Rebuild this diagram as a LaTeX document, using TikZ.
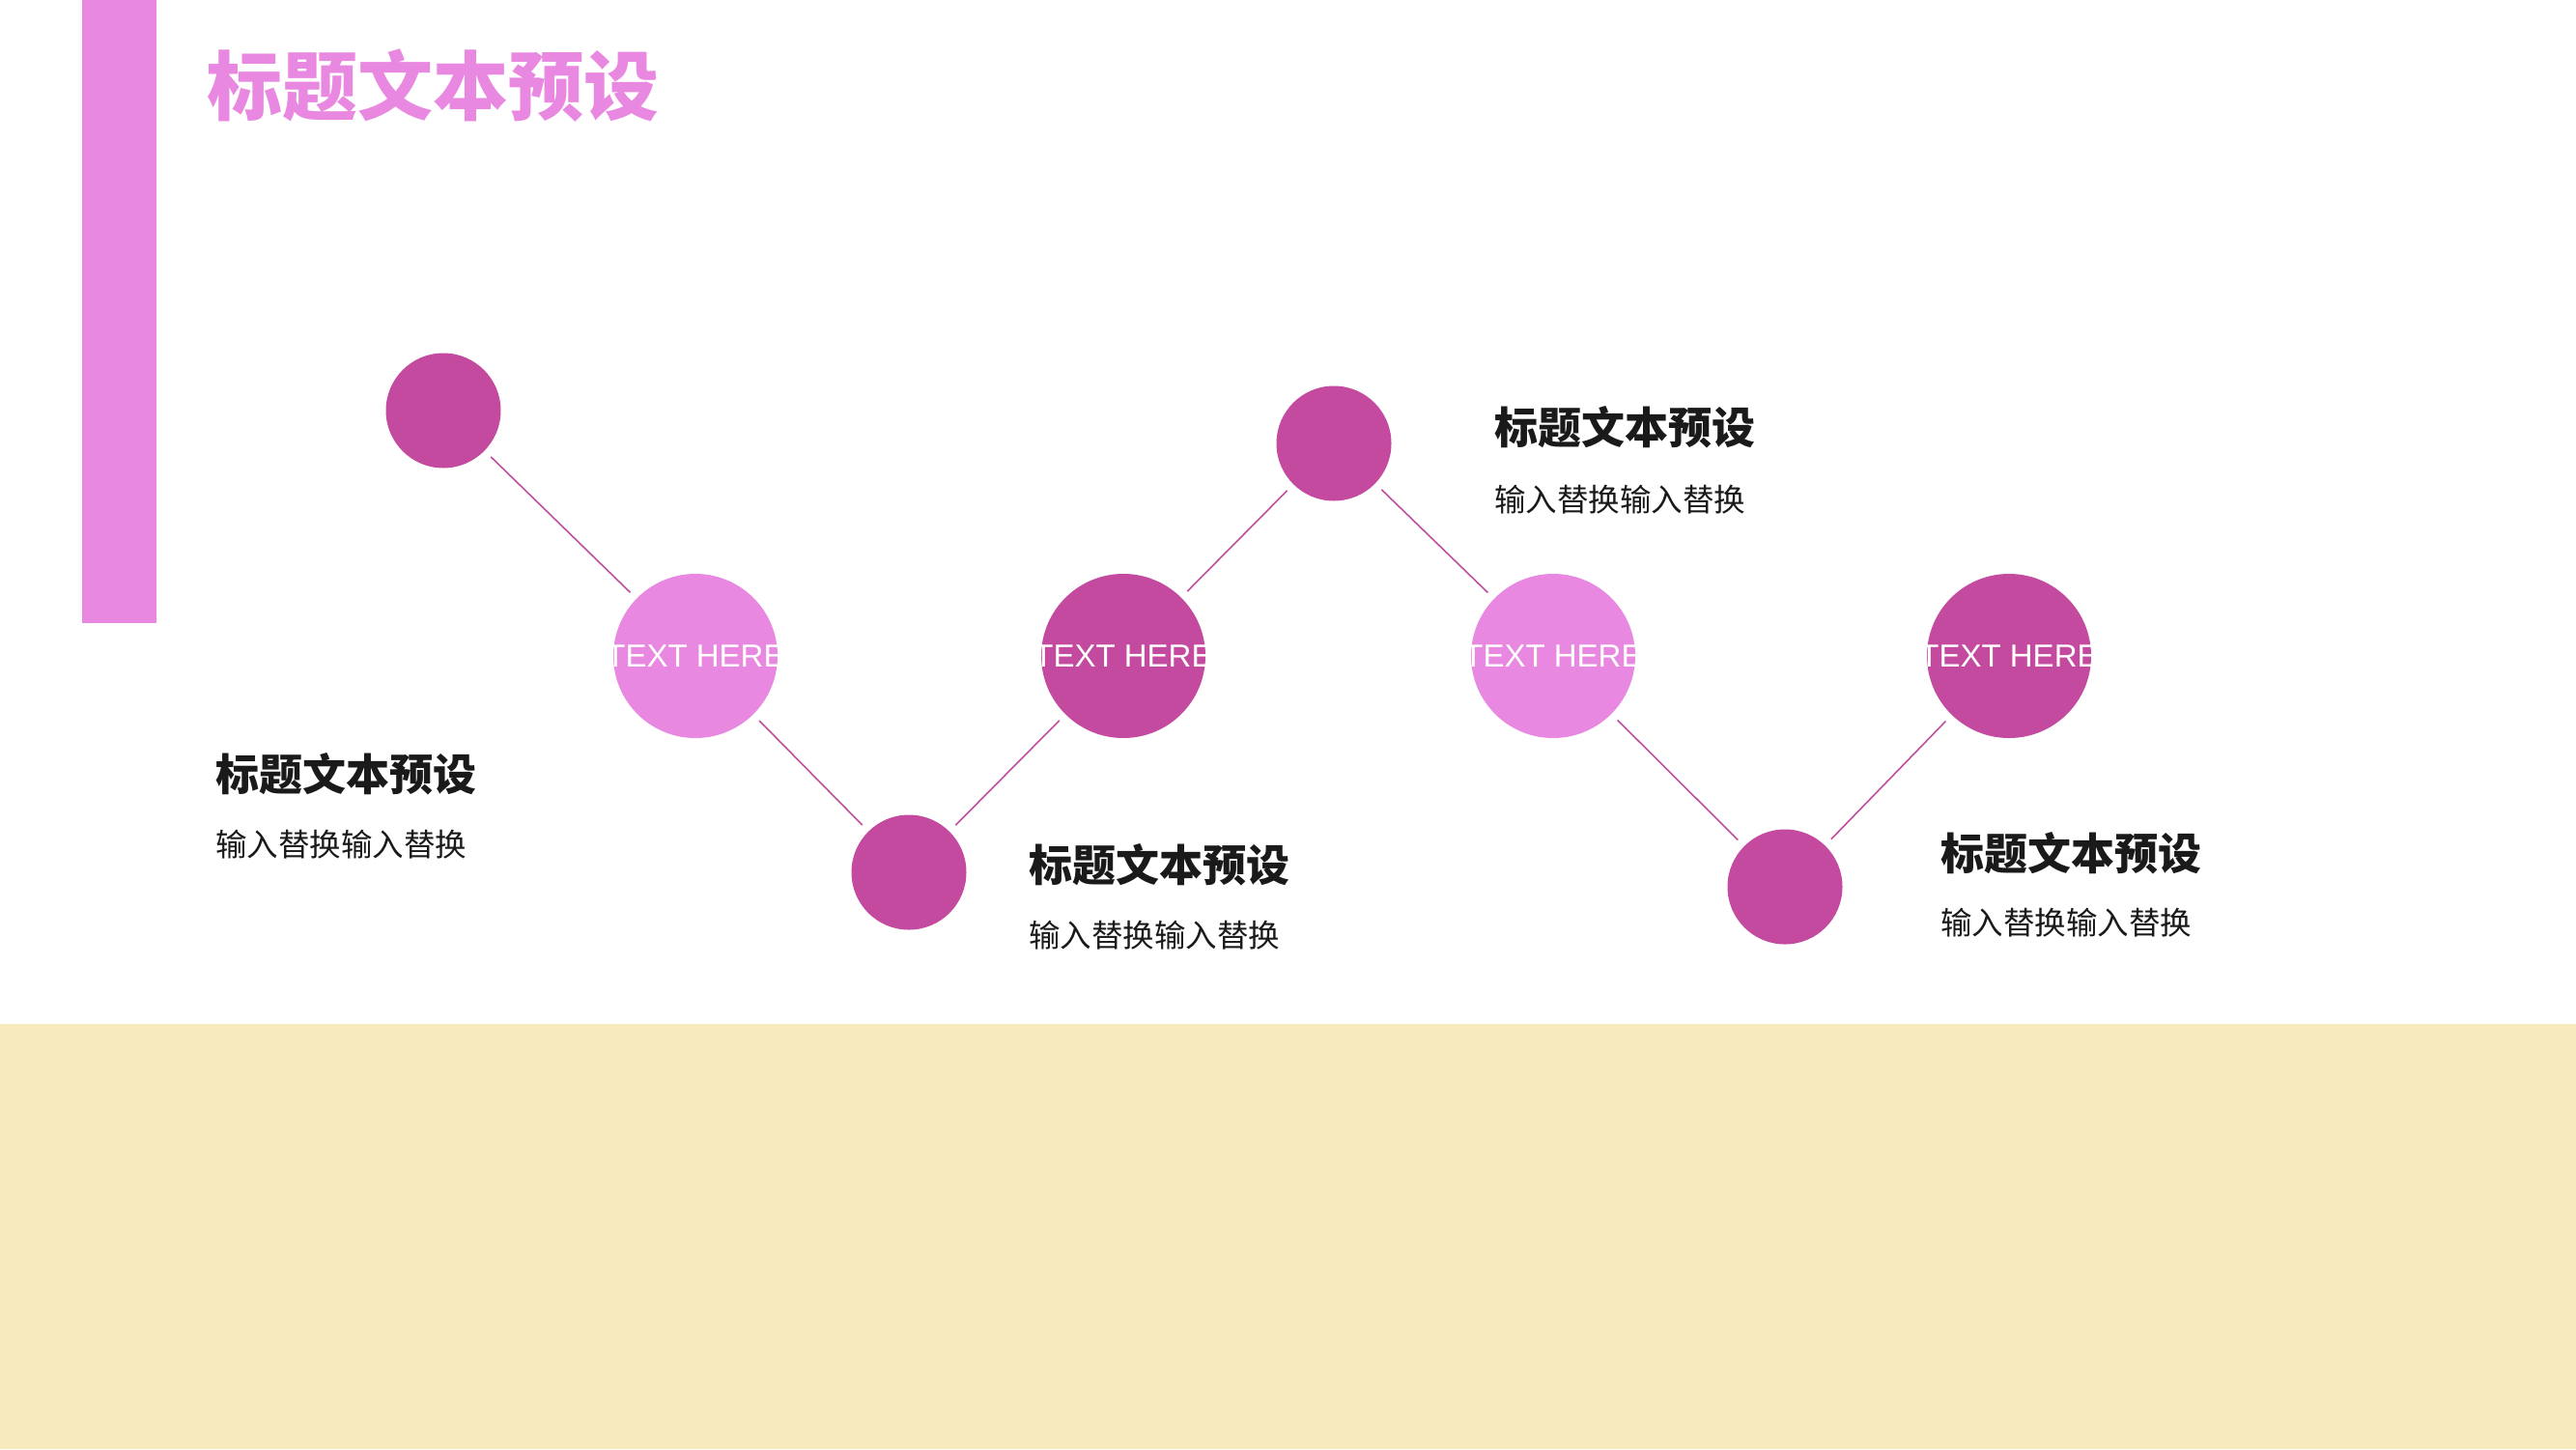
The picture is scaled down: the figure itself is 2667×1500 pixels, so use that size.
\documentclass[tikz,border=0pt]{standalone}
\usepackage{fontspec}
\setsansfont{Liberation Sans}
\newfontfamily\cjk{Noto Sans CJK SC}
\definecolor{barpink}{HTML}{E988E0}
\definecolor{darkpink}{HTML}{C44A9F}
\definecolor{linepink}{HTML}{C0509E}
\definecolor{beige}{HTML}{F8EABF}
\definecolor{txtdark}{HTML}{1A1A1A}
\tikzset{
  smalldot/.style={circle, inner sep=0pt, minimum size=119pt, fill=darkpink},
  bigdark/.style={circle, inner sep=0pt, minimum size=170pt, fill=darkpink},
  biglight/.style={circle, inner sep=0pt, minimum size=170pt, fill=barpink},
  herelabel/.style={inner sep=0pt, text=white, font=\sffamily\fontsize{33}{36}\selectfont},
  conn/.style={draw=linepink, line width=1.6pt, shorten <=9pt, shorten >=9pt},
  headtext/.style={anchor=west, inner sep=0pt, text=txtdark, font=\cjk\bfseries\fontsize{45}{50}\selectfont},
  subtext/.style={anchor=west, inner sep=0pt, text=txtdark, font=\cjk\fontsize{32.5}{36}\selectfont},
}
\begin{document}
\begin{tikzpicture}[x=1pt,y=-1pt]
\useasboundingbox (0,0) rectangle (2667,1500);
\fill[white] (0,0) rectangle (2667,1500);
\fill[beige] (0,1060) rectangle (2667,1500);
\fill[barpink] (85,0) rectangle (162,645);
\node[inner sep=0pt, text=barpink, font=\cjk\bfseries\fontsize{78}{84}\selectfont] (title) at (448,89) {标题文本预设};

\node[smalldot] (c1) at (459,425) {};
\node[biglight] (c2) at (720,679) {};
\node[smalldot] (c3) at (941,903) {};
\node[bigdark] (c4) at (1163,679) {};
\node[smalldot] (c5) at (1381,459) {};
\node[biglight] (c6) at (1608,679) {};
\node[smalldot] (c7) at (1848,918) {};
\node[bigdark] (c8) at (2080,679) {};

\node[herelabel] (t2) at (c2) {TEXT HERE};
\node[herelabel] (t4) at (c4) {TEXT HERE};
\node[herelabel] (t6) at (c6) {TEXT HERE};
\node[herelabel] (t8) at (c8) {TEXT HERE};

\draw[conn] (c1) -- (c2);
\draw[conn] (c2) -- (c3);
\draw[conn] (c3) -- (c4);
\draw[conn] (c4) -- (c5);
\draw[conn] (c5) -- (c6);
\draw[conn] (c6) -- (c7);
\draw[conn] (c7) -- (c8);

\node[headtext] (h1) at (223,801) {标题文本预设};
\node[subtext] (s1) at (223,874) {输入替换输入替换};
\node[headtext] (h2) at (1065,895) {标题文本预设};
\node[subtext] (s2) at (1065,968) {输入替换输入替换};
\node[headtext] (h3) at (1547,442) {标题文本预设};
\node[subtext] (s3) at (1547,517) {输入替换输入替换};
\node[headtext] (h4) at (2009,883) {标题文本预设};
\node[subtext] (s4) at (2009,955) {输入替换输入替换};
\end{tikzpicture}
\end{document}
